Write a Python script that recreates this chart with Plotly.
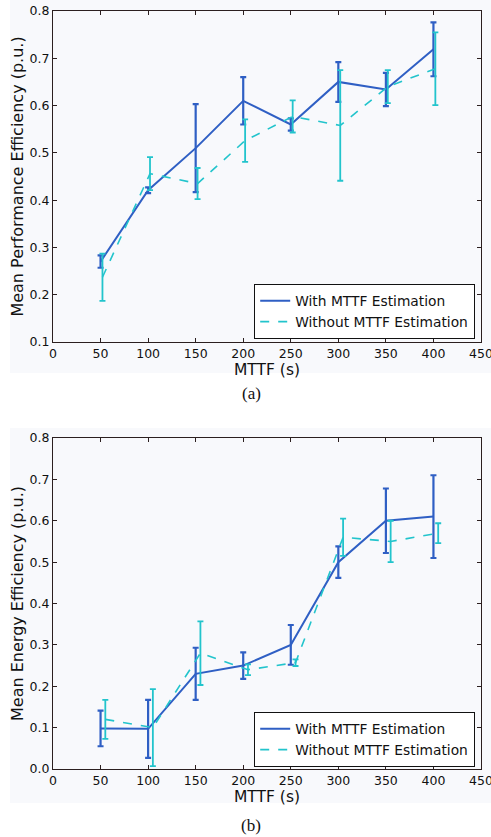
import plotly.graph_objects as go

# ---------------- data ----------------
mttf = [50, 100, 150, 200, 250, 300, 350, 400]
offset_a = 2   # horizontal shift of the "without" series in (a)
offset_b = 5   # horizontal shift of the "without" series in (b)

perf_with = [0.270, 0.421, 0.510, 0.610, 0.560, 0.650, 0.634, 0.719]
perf_with_err = [0.013, 0.006, 0.093, 0.050, 0.013, 0.042, 0.035, 0.057]
perf_without = [0.237, 0.456, 0.435, 0.526, 0.577, 0.558, 0.640, 0.678]
perf_without_err = [0.050, 0.035, 0.033, 0.045, 0.034, 0.117, 0.035, 0.077]

energy_with = [0.098, 0.097, 0.230, 0.250, 0.300, 0.500, 0.600, 0.610]
energy_with_err = [0.043, 0.070, 0.063, 0.032, 0.048, 0.038, 0.078, 0.100]
energy_without = [0.120, 0.100, 0.280, 0.240, 0.257, 0.560, 0.550, 0.570]
energy_without_err = [0.047, 0.093, 0.077, 0.013, 0.008, 0.045, 0.050, 0.024]

x_ticks = [0, 50, 100, 150, 200, 250, 300, 350, 400, 450]
y_ticks_a = [0.1, 0.2, 0.3, 0.4, 0.5, 0.6, 0.7, 0.8]
y_ticks_b = [0.0, 0.1, 0.2, 0.3, 0.4, 0.5, 0.6, 0.7, 0.8]

label_with = "With MTTF Estimation"
label_without = "Without MTTF Estimation"

# ---------------- style ----------------
BLUE = "#2f5fc4"
CYAN = "#22c4cc"
FRAME = "#2b1f1f"
FONT = "DejaVu Sans"
W, H = 491, 837

def px_x(p):
    return p / W

def px_y(p):
    return 1 - p / H

fig = go.Figure()

def add_pair(xa, ya, legend, yw, ew, yo, eo, off):
    fig.add_trace(go.Scatter(
        x=mttf, y=yw, mode="lines", name=label_with,
        line=dict(color=BLUE, width=2),
        error_y=dict(type="data", array=ew, color=BLUE, thickness=2.2, width=3),
        xaxis=xa, yaxis=ya, legend=legend))
    fig.add_trace(go.Scatter(
        x=[m + off for m in mttf], y=yo, mode="lines", name=label_without,
        line=dict(color=CYAN, width=1.6, dash="dash"),
        error_y=dict(type="data", array=eo, color=CYAN, thickness=1.8, width=3),
        xaxis=xa, yaxis=ya, legend=legend))

add_pair("x", "y", "legend", perf_with, perf_with_err, perf_without, perf_without_err, offset_a)
add_pair("x2", "y2", "legend2", energy_with, energy_with_err, energy_without, energy_without_err, offset_b)

axis_common = dict(
    showline=True, linecolor=FRAME, linewidth=1.3, mirror="allticks",
    ticks="inside", ticklen=4, tickcolor=FRAME, tickwidth=1,
    showgrid=False, zeroline=False, automargin=False,
    ticklabeloverflow="allow",
    tickfont=dict(family=FONT, size=12.5, color="#111"),
)

xdom = [px_x(53), px_x(481)]
legend_common = dict(xanchor="right", yanchor="bottom",
                     bgcolor="white", bordercolor="#111", borderwidth=1.2,
                     font=dict(family=FONT, size=13.8), tracegroupgap=0,
                     itemwidth=30)
fig.update_layout(
    width=W, height=H,
    margin=dict(l=0, r=0, t=0, b=0, autoexpand=False),
    paper_bgcolor="white",
    plot_bgcolor="rgba(0,0,0,0)",
    font=dict(family=FONT, color="#111"),
    xaxis=dict(domain=xdom, range=[0, 450], tickvals=x_ticks, anchor="y",
               title=dict(text="MTTF (s)", font=dict(size=15.5), standoff=0),
               **axis_common),
    yaxis=dict(domain=[px_y(342), px_y(11)], range=[0.1, 0.8], tickvals=y_ticks_a,
               ticktext=[f"{v:.1f}" for v in y_ticks_a], anchor="x",
               title=dict(text="Mean Performance Efficiency (p.u.)", font=dict(size=16), standoff=1),
               **axis_common),
    xaxis2=dict(domain=xdom, range=[0, 450], tickvals=x_ticks, anchor="y2",
                title=dict(text="MTTF (s)", font=dict(size=15.5), standoff=0),
                **axis_common),
    yaxis2=dict(domain=[px_y(769), px_y(438)], range=[0.0, 0.8], tickvals=y_ticks_b,
                ticktext=[f"{v:.1f}" for v in y_ticks_b], anchor="x2",
                title=dict(text="Mean Energy Efficiency (p.u.)", font=dict(size=16), standoff=1),
                **axis_common),
    legend=dict(x=px_x(475), y=px_y(339), **legend_common),
    legend2=dict(x=px_x(475), y=px_y(767), **legend_common),
    shapes=[
        dict(type="rect", xref="paper", yref="paper", x0=px_x(10), x1=1,
             y0=px_y(373), y1=1, fillcolor="#f8f9fc", line=dict(width=0), layer="below"),
        dict(type="rect", xref="paper", yref="paper", x0=px_x(10), x1=1,
             y0=px_y(803), y1=px_y(428), fillcolor="#f8f9fc", line=dict(width=0), layer="below"),
    ],
    annotations=[
        dict(text="(a)", x=px_x(251), y=px_y(393), xref="paper", yref="paper",
             xanchor="center", yanchor="middle", showarrow=False,
             font=dict(family="Liberation Serif", size=17, color="#111")),
        dict(text="(b)", x=px_x(251), y=px_y(825), xref="paper", yref="paper",
             xanchor="center", yanchor="middle", showarrow=False,
             font=dict(family="Liberation Serif", size=17, color="#111")),
    ],
)

# remove the default 8px page margin so the figure sits at the window's origin
fig.write_html("out.html", config={"displayModeBar": False},
               post_script="document.body.style.margin='0';")
